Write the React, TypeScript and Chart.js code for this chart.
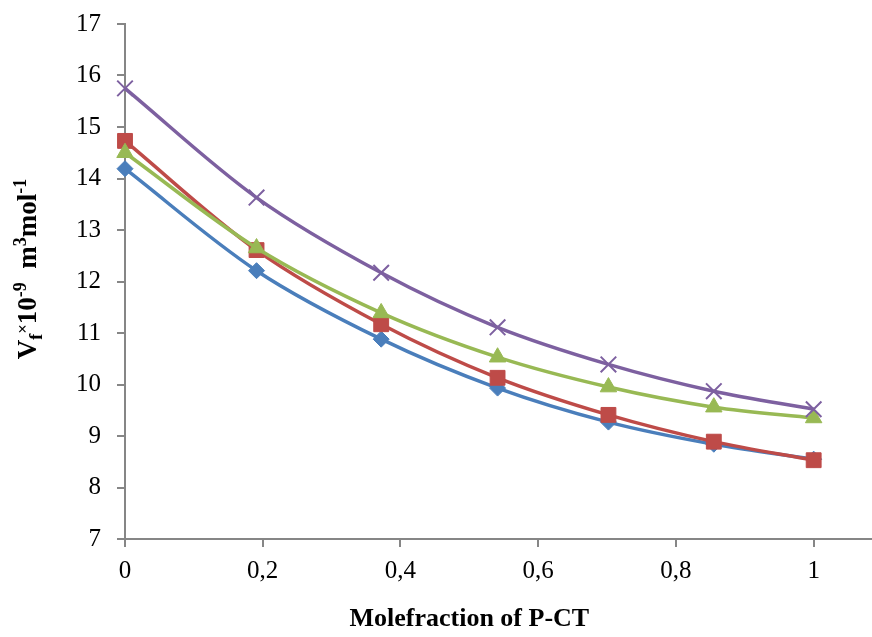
import React, { useEffect, useRef } from "react";
import { Chart, registerables } from "chart.js";

Chart.register(...registerables);

const moleFractions = [0, 0.191, 0.372, 0.541, 0.702, 0.855, 1];
const seriesBlue = [14.19, 12.21, 10.88, 9.93, 9.27, 8.84, 8.55];
const seriesRed = [14.73, 12.61, 11.17, 10.13, 9.41, 8.89, 8.53];
const seriesGreen = [14.5, 12.65, 11.39, 10.53, 9.95, 9.56, 9.35];
const seriesPurple = [15.75, 13.63, 12.17, 11.11, 10.39, 9.87, 9.52];
const xTickValues = [0, 0.2, 0.4, 0.6, 0.8, 1];

const xTitle = "Molefraction of P-CT";
const yTitleParts = [
  { t: "V", size: 27, dy: 0 },
  { t: "f", size: 18, dy: 6 },
  { t: "×", size: 17, dy: -8 },
  { t: "10", size: 27, dy: 0 },
  { t: "-9", size: 18, dy: -10 },
  { t: "  m", size: 27, dy: 0 },
  { t: "3", size: 18, dy: -10 },
  { t: "mol", size: 27, dy: 0 },
  { t: "-1", size: 18, dy: -10 },
];

const FONT = "'Times New Roman', 'Liberation Serif', serif";

const toPts = (ys: number[]) => ys.map((y, i) => ({ x: moleFractions[i], y }));

const titlesPlugin = {
  id: "customTitles",
  afterDraw(chart: any) {
    const ctx = chart.ctx;
    const xs = chart.scales.x;
    ctx.save();
    ctx.fillStyle = "#000";
    ctx.font = `bold 26px ${FONT}`;
    ctx.textAlign = "center";
    ctx.textBaseline = "alphabetic";
    const cx = (xs.getPixelForValue(0) + xs.getPixelForValue(1)) / 2;
    ctx.fillText(xTitle, cx, 626);
    ctx.textAlign = "left";
    let total = 0;
    const widths = yTitleParts.map((p) => {
      ctx.font = `bold ${p.size}px ${FONT}`;
      const w = ctx.measureText(p.t).width;
      total += w;
      return w;
    });
    ctx.translate(36, 269);
    ctx.rotate(-Math.PI / 2);
    let pos = -total / 2;
    yTitleParts.forEach((p, i) => {
      ctx.font = `bold ${p.size}px ${FONT}`;
      ctx.fillText(p.t, pos, p.dy);
      pos += widths[i];
    });
    ctx.restore();
  },
};

export default function App() {
  const ref = useRef<HTMLCanvasElement | null>(null);
  useEffect(() => {
    document.body.style.margin = "0";
    if (!ref.current) return;
    const mk = (label: string, data: number[], color: string, style: string, radius: number, bw: number) => ({
      label,
      data: toPts(data),
      borderColor: color,
      backgroundColor: color,
      pointBackgroundColor: color,
      pointBorderColor: color,
      pointStyle: style,
      pointRadius: radius,
      pointBorderWidth: bw,
      borderWidth: 3.5,
      tension: 0.33,
      fill: false,
      showLine: true,
      clip: false,
    });
    const chart = new Chart(ref.current, {
      type: "scatter",
      data: {
        datasets: [
          mk("Purple", seriesPurple, "#7D60A0", "crossRot", 11, 2),
          mk("Green", seriesGreen, "#98B954", "triangle", 9.5, 1),
          mk("Red", seriesRed, "#BE4B48", "rect", 10.5, 1),
          mk("Blue", seriesBlue, "#4A7EBB", "rectRot", 8, 1),
        ] as any,
      },
      options: {
        responsive: false,
        animation: false,
        events: [],
        layout: { autoPadding: false, padding: { top: 24, right: 0, left: 0, bottom: 0 } },
        plugins: { legend: { display: false }, tooltip: { enabled: false } },
        scales: {
          x: {
            type: "linear",
            min: 0,
            max: 1.0847,
            afterBuildTicks: (s: any) => {
              s.ticks = xTickValues.map((v) => ({ value: v }));
            },
            afterFit: (s: any) => {
              s.height = 98;
              s.paddingLeft = 0;
              s.paddingRight = 0;
            },
            ticks: {
              color: "#000",
              font: { family: FONT, size: 25 },
              padding: 9,
              maxRotation: 0,
              callback: (v: any) => String(Math.round(Number(v) * 10) / 10).replace(".", ","),
            },
            grid: { drawOnChartArea: false, drawTicks: true, tickLength: 8, color: "#868686", lineWidth: 2 },
            border: { color: "#868686", width: 2 },
          },
          y: {
            type: "linear",
            min: 7,
            max: 17,
            afterFit: (s: any) => {
              s.width = 125;
              s.paddingTop = 0;
              s.paddingBottom = 0;
            },
            ticks: {
              stepSize: 1,
              color: "#000",
              font: { family: FONT, size: 25 },
              padding: 16,
            },
            grid: { drawOnChartArea: false, drawTicks: true, tickLength: 8, color: "#868686", lineWidth: 2 },
            border: { color: "#868686", width: 2 },
          },
        },
      },
      plugins: [titlesPlugin],
    });
    return () => chart.destroy();
  }, []);
  return (
    <div style={{ width: 872, height: 637 }}>
      <canvas ref={ref} width={872} height={637} style={{ display: "block" }} />
    </div>
  );
}
